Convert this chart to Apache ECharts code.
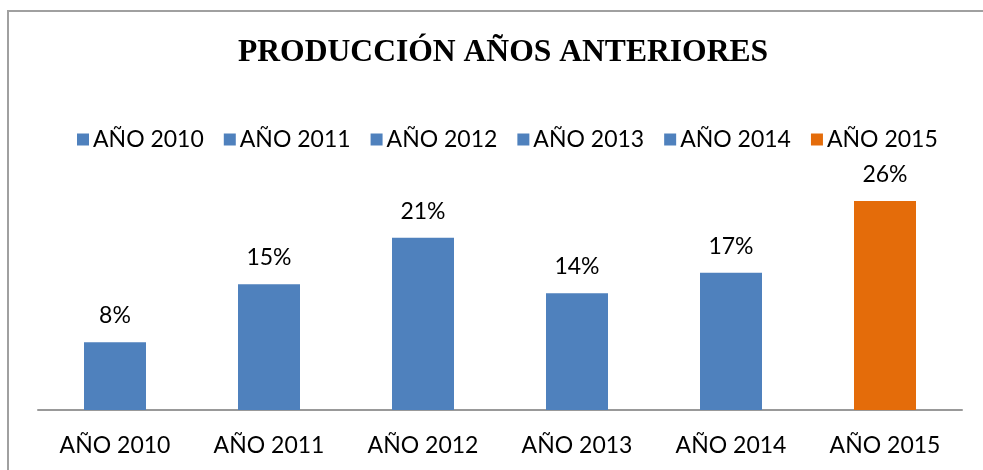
<!DOCTYPE html>
<html>
<head>
<meta charset="utf-8">
<script src="https://cdn.jsdelivr.net/npm/echarts@6/dist/echarts.min.js"></script>
<style>
  html, body { margin: 0; padding: 0; background: #fff; }
  #chart { width: 983px; height: 470px; }
</style>
</head>
<body>
<div id="chart"></div>
<script>
"use strict";

// categories and values (percent)
const categories = ["AÑO 2010", "AÑO 2011", "AÑO 2012", "AÑO 2013", "AÑO 2014", "AÑO 2015"];
const values = [8.3, 15.4, 21.1, 14.3, 16.8, 25.6];
const barColors = ["#4f81bd", "#4f81bd", "#4f81bd", "#4f81bd", "#4f81bd", "#e46c0a"];

const font = "Lato, 'Open Sans', sans-serif";

// one series per year so every year gets its own legend entry
const series = categories.map(function (name, i) {
  return {
    name: name,
    type: "bar",
    stack: "all",
    barWidth: 62,
    itemStyle: { color: barColors[i] },
    label: {
      show: true,
      position: "top",
      distance: 15,
      color: "#000",
      fontFamily: font,
      fontSize: 23,
      formatter: function (p) { return Math.round(p.value) + "%"; },
    },
    data: values.map(function (v, j) { return j === i ? v : "-"; }),
  };
});

const chart = echarts.init(document.getElementById("chart"), null, { renderer: "canvas" });
chart.setOption({
  animation: false,
  backgroundColor: "#fff",
  title: {
    text: "PRODUCCIÓN AÑOS ANTERIORES",
    left: 233,
    top: 32,
    textStyle: {
      fontFamily: "'Liberation Serif', 'Times New Roman', serif",
      fontWeight: "bold",
      fontSize: 31.6,
      color: "#000",
    },
  },
  legend: {
    top: 123,
    left: 72,
    icon: "rect",
    itemWidth: 12,
    itemHeight: 12,
    itemGap: 20,
    selectedMode: false,
    textStyle: { fontFamily: font, fontSize: 23, color: "#000", padding: [0, 0, 0, -1] },
    data: categories,
  },
  grid: { left: 38, right: 21, top: 165, bottom: 60, containLabel: false },
  xAxis: {
    type: "category",
    data: categories,
    axisLine: { lineStyle: { color: "#999", width: 2 } },
    axisTick: { show: false },
    axisLabel: { color: "#000", fontFamily: font, fontSize: 23, margin: 24 },
  },
  yAxis: {
    type: "value",
    min: 0,
    max: 30,
    show: false,
  },
  graphic: [
    {
      type: "rect",
      shape: { x: 8, y: 11, width: 1000, height: 500 },
      style: { fill: null, stroke: "#a0a0a0", lineWidth: 2 },
      silent: true,
    },
  ],
  series: series,
});
</script>
</body>
</html>
